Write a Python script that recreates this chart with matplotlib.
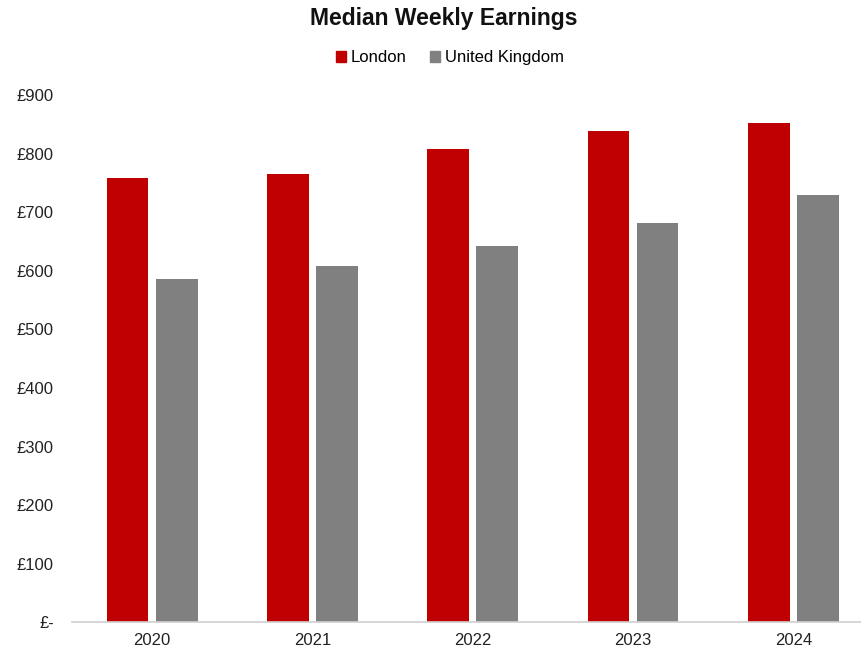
import numpy as np
import matplotlib.pyplot as plt
from matplotlib.patches import Patch
from matplotlib.ticker import FuncFormatter

plt.rcParams['font.family'] = ['Liberation Sans', 'DejaVu Sans']

years = ['2020', '2021', '2022', '2023', '2024']
london = [758, 766, 809, 839, 853]
uk = [586, 609, 642, 682, 729]

red = '#C00000'
grey = '#808080'

fig = plt.figure(figsize=(8.62, 6.57), dpi=100)
ax = fig.add_axes([0.0835, 0.053, 0.915, 0.802])

x = np.arange(len(years))
w = 0.26
off = 0.153
ax.bar(x - off, london, w, color=red)
ax.bar(x + off, uk, w, color=grey)

ax.set_xlim(-0.5, 4.42)
ax.set_ylim(0, 900)
ax.set_yticks(np.arange(0, 901, 100))
ax.yaxis.set_major_formatter(FuncFormatter(lambda v, p: '£-' if v == 0 else f'£{int(v)}'))
ax.set_xticks(x)
ax.set_xticklabels(years)
ax.tick_params(axis='both', length=0, labelsize=12, colors='#222222')
ax.tick_params(axis='y', pad=13)
ax.tick_params(axis='x', pad=8)

for s in ['top', 'right', 'left']:
    ax.spines[s].set_visible(False)
ax.spines['bottom'].set_color('#d0d0d0')
ax.spines['bottom'].set_linewidth(1.2)

fig.text(0.515, 0.972, 'Median Weekly Earnings', ha='center', va='center',
         fontsize=16.5, fontweight='bold', color='#111111')

handles = [Patch(color=red, label='London'), Patch(color=grey, label='United Kingdom')]
fig.legend(handles=handles, loc='center', bbox_to_anchor=(0.522, 0.912), ncol=2,
           frameon=False, fontsize=12, handlelength=0.6, handleheight=0.6,
           handletextpad=0.3, columnspacing=1.4)

plt.savefig('out.png', dpi=100)
plt.close()
